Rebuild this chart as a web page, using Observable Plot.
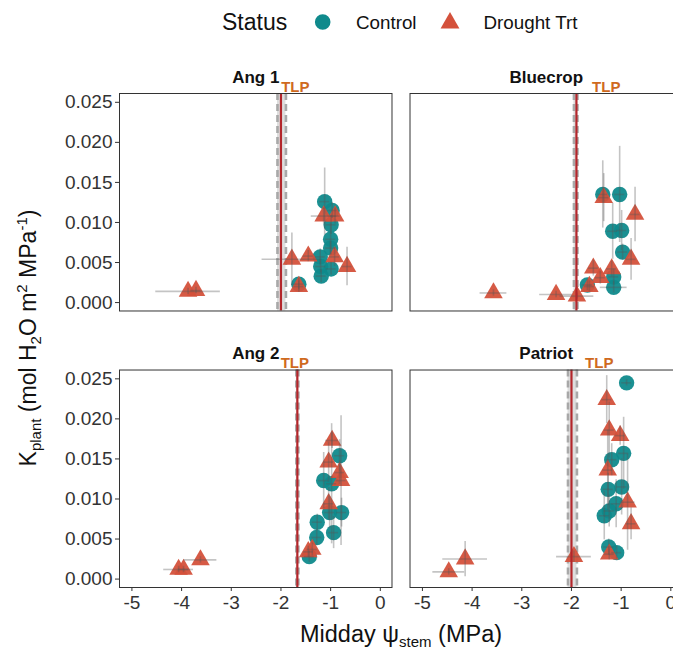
<!DOCTYPE html>
<html>
<head>
<meta charset="utf-8">
<script src="https://cdn.jsdelivr.net/npm/d3@7"></script>
<script src="https://cdn.jsdelivr.net/npm/@observablehq/plot@0.6"></script>
<style>
  body { margin: 0; background: #fff; font-family: "Liberation Sans", Arial, sans-serif; }
  #wrap { width: 673px; height: 655px; overflow: hidden; position: relative; background: #fff; }
  #legend { height: 45px; }
  #chart { width: 690px; }
  #chart svg { display: block; max-width: none !important; }
</style>
</head>
<body>
<div id="wrap">
  <div id="legend"></div>
  <div id="chart"></div>
</div>
<script>
// Panels (cultivars) and treatment groups
const cultivars = ["Ang 1", "Bluecrop", "Ang 2", "Patriot"];
const statuses = ["Control", "Drought Trt"];
const statusColors = ["#0f8a8c", "#d4513b"];

// Axis ticks
const xTicks = [-5, -4, -3, -2, -1, 0];
const yTicks = [0, 0.005, 0.010, 0.015, 0.020, 0.025];

// Turgor loss point per cultivar: mean and confidence band (MPa)
const tlpMean = [-2.00, -1.90, -1.67, -2.00];
const tlpLow = [-2.07, -1.95, -1.69, -2.07];
const tlpHigh = [-1.90, -1.88, -1.65, -1.89];
const tlpLabelAt = [-1.71, -1.30, -1.72, -1.44];

// Each point: [midday stem water potential, Kplant, SE of potential, SE of Kplant]
const ang1Control = [
  [-1.12, 0.0126, 0.10, 0.0042],
  [-0.97, 0.0115, 0.10, 0.0010],
  [-0.99, 0.0097, 0.10, 0.0012],
  [-1.00, 0.0079, 0.10, 0.0020],
  [-1.00, 0.0068, 0.10, 0.0008],
  [-1.21, 0.0057, 0.10, 0.0010],
  [-1.20, 0.0045, 0.10, 0.0008],
  [-0.99, 0.0042, 0.10, 0.0008],
  [-1.19, 0.0033, 0.10, 0.0008],
  [-1.64, 0.0023, 0.10, 0.0007]
];
const ang1Drought = [
  [-1.14, 0.0108, 0.25, 0.0010],
  [-0.91, 0.0108, 0.10, 0.0010],
  [-1.78, 0.0054, 0.60, 0.0033],
  [-1.45, 0.0058, 0.10, 0.0007],
  [-0.92, 0.0057, 0.10, 0.0012],
  [-0.67, 0.0045, 0.10, 0.0024],
  [-1.64, 0.0020, 0.10, 0.0007],
  [-3.87, 0.0014, 0.65, 0.0004],
  [-3.71, 0.0015, 0.10, 0.0004]
];
const bluecropControl = [
  [-1.37, 0.0135, 0.10, 0.0042],
  [-1.03, 0.0135, 0.10, 0.0060],
  [-1.17, 0.0089, 0.10, 0.0035],
  [-0.99, 0.0090, 0.10, 0.0025],
  [-0.97, 0.0063, 0.10, 0.0010],
  [-1.15, 0.0032, 0.10, 0.0010],
  [-1.15, 0.0019, 0.27, 0.0007],
  [-1.68, 0.0022, 0.10, 0.0007]
];
const bluecropDrought = [
  [-1.35, 0.0131, 0.10, 0.0030],
  [-0.72, 0.0110, 0.10, 0.0034],
  [-0.80, 0.0054, 0.10, 0.0026],
  [-1.19, 0.0042, 0.10, 0.0010],
  [-1.56, 0.0043, 0.10, 0.0010],
  [-1.42, 0.0031, 0.10, 0.0008],
  [-1.64, 0.0020, 0.10, 0.0007],
  [-2.31, 0.0010, 0.33, 0.0004],
  [-1.89, 0.0008, 0.34, 0.0004],
  [-3.57, 0.0012, 0.27, 0.0004]
];
const ang2Control = [
  [-0.82, 0.0154, 0.10, 0.0020],
  [-1.14, 0.0123, 0.10, 0.0035],
  [-0.98, 0.0119, 0.10, 0.0075],
  [-1.02, 0.0083, 0.10, 0.0020],
  [-0.78, 0.0083, 0.10, 0.0018],
  [-1.27, 0.0071, 0.10, 0.0010],
  [-1.28, 0.0052, 0.10, 0.0010],
  [-0.94, 0.0058, 0.10, 0.0020],
  [-1.43, 0.0028, 0.10, 0.0007]
];
const ang2Drought = [
  [-0.97, 0.0173, 0.13, 0.0010],
  [-1.04, 0.0146, 0.10, 0.0025],
  [-0.82, 0.0133, 0.10, 0.0015],
  [-0.79, 0.0123, 0.10, 0.0081],
  [-1.04, 0.0094, 0.10, 0.0020],
  [-1.37, 0.0037, 0.10, 0.0008],
  [-1.45, 0.0034, 0.10, 0.0007],
  [-4.06, 0.0012, 0.30, 0.0004],
  [-3.96, 0.0012, 0.10, 0.0004],
  [-3.62, 0.0024, 0.33, 0.0004]
];
const patriotControl = [
  [-0.89, 0.0245, 0.10, 0.0004],
  [-0.95, 0.0157, 0.10, 0.0045],
  [-1.19, 0.0149, 0.10, 0.0020],
  [-0.99, 0.0115, 0.10, 0.0035],
  [-1.26, 0.0112, 0.10, 0.0020],
  [-1.10, 0.0094, 0.10, 0.0030],
  [-1.24, 0.0085, 0.10, 0.0020],
  [-1.34, 0.0079, 0.10, 0.0030],
  [-1.25, 0.0040, 0.10, 0.0010],
  [-1.09, 0.0033, 0.10, 0.0008]
];
const patriotDrought = [
  [-1.29, 0.0224, 0.10, 0.0030],
  [-1.24, 0.0186, 0.10, 0.0035],
  [-1.02, 0.0179, 0.10, 0.0012],
  [-1.27, 0.0136, 0.10, 0.0050],
  [-0.87, 0.0096, 0.15, 0.0060],
  [-0.80, 0.0069, 0.10, 0.0020],
  [-1.24, 0.0031, 0.10, 0.0007],
  [-1.95, 0.0028, 0.35, 0.0007],
  [-4.47, 0.0009, 0.32, 0.0004],
  [-4.14, 0.0025, 0.45, 0.0022]
];

const groups = [
  [ang1Control, ang1Drought],
  [bluecropControl, bluecropDrought],
  [ang2Control, ang2Drought],
  [patriotControl, patriotDrought]
];

// Long-format table with a 2 x 2 facet layout
const rows = [];
cultivars.forEach((name, i) => {
  groups[i].forEach((set, s) => {
    set.forEach(([psi, k, psiSE, kSE]) => {
      rows.push({cultivar: name, status: statuses[s], psi, k, psiSE, kSE, col: i % 2, row: Math.floor(i / 2)});
    });
  });
});
const panels = cultivars.map((name, i) => ({
  name, col: i % 2, row: Math.floor(i / 2),
  mean: tlpMean[i], lo: tlpLow[i], hi: tlpHigh[i], labelAt: tlpLabelAt[i]
}));

const FONT = "Liberation Sans, Arial, sans-serif";
const facet = {fx: "col", fy: "row"};
const controlRows = rows.filter(d => d.status === statuses[0]);
const droughtRows = rows.filter(d => d.status === statuses[1]);

const chart = Plot.plot({
  width: 690,
  height: 610,
  marginLeft: 119,
  marginRight: 8,
  marginTop: 48,
  marginBottom: 68,
  style: {fontFamily: FONT, fontSize: "19px", color: "#333", background: "transparent", overflow: "visible", maxWidth: "none"},
  fx: {domain: [0, 1], axis: null, paddingInner: 0.062, paddingOuter: 0, round: false},
  fy: {domain: [0, 1], axis: null, paddingInner: 0.2135, paddingOuter: 0, round: false},
  x: {domain: [-5.25, 0.235], ticks: xTicks, tickSize: 4, tickPadding: 4, tickFormat: d => String(d), label: null},
  y: {domain: [-0.00105, 0.0261], ticks: yTicks, tickSize: 4, tickPadding: 3, tickFormat: d => d.toFixed(3), label: null},
  marks: [
    // TLP confidence band with dashed limits
    Plot.rect(panels, {...facet, x1: "lo", x2: "hi", fill: "#d6d6d6", fillOpacity: 0.8}),
    Plot.ruleX(panels, {...facet, x: "lo", stroke: "#a8a8a8", strokeWidth: 2.6, strokeDasharray: "7,4"}),
    Plot.ruleX(panels, {...facet, x: "hi", stroke: "#a8a8a8", strokeWidth: 2.6, strokeDasharray: "7,4"}),
    // points
    Plot.dot(controlRows, {...facet, x: "psi", y: "k", r: 7.7, symbol: "circle", fill: statusColors[0], fillOpacity: 0.95}),
    Plot.dot(droughtRows, {...facet, x: "psi", y: "k", r: 6.9, symbol: "triangle", fill: statusColors[1], fillOpacity: 0.95}),
    // standard errors
    Plot.ruleX(rows, {...facet, x: "psi", y1: d => d.k - d.kSE, y2: d => d.k + d.kSE, stroke: "#555", strokeOpacity: 0.35, strokeWidth: 1.6}),
    Plot.ruleY(rows, {...facet, y: "k", x1: d => d.psi - d.psiSE, x2: d => d.psi + d.psiSE, stroke: "#555", strokeOpacity: 0.35, strokeWidth: 1.6}),
    // mean TLP
    Plot.ruleX(panels, {...facet, x: "mean", stroke: "#b3262b", strokeWidth: 2.2}),
    Plot.frame({stroke: "#333", strokeWidth: 1}),
    // panel titles and TLP labels
    Plot.text(panels, {...facet, text: "name", frameAnchor: "top", lineAnchor: "bottom", dy: -11, fontSize: 17, fontWeight: "bold", fill: "#111"}),
    Plot.text(panels, {...facet, x: "labelAt", text: () => "TLP", frameAnchor: "top", lineAnchor: "bottom", dy: -2, fontSize: 15, fontWeight: "bold", fill: "#cf6a1e"})
  ]
});
chart.style.maxWidth = "none";
document.getElementById("chart").appendChild(chart);

// Axis titles with sub- and superscripts
const svg = d3.select(chart);
const yTitle = svg.append("text")
  .attr("transform", "translate(36,293) rotate(-90)")
  .attr("text-anchor", "middle")
  .attr("font-family", FONT)
  .attr("font-size", 23)
  .attr("fill", "#111");
const parts = [
  ["K", 0, 23], ["plant", 5, 15], [" (mol H", -5, 23], ["2", 5, 15], ["O m", -5, 23],
  ["2", -9, 15], [" MPa", 9, 23], ["-1", -9, 15], [")", 9, 23]
];
parts.forEach(([t, dy, fs]) => yTitle.append("tspan").attr("dy", dy).attr("font-size", fs).text(t));

const xTitle = svg.append("text")
  .attr("x", 401)
  .attr("y", 597)
  .attr("text-anchor", "middle")
  .attr("font-family", FONT)
  .attr("font-size", 23.5)
  .attr("fill", "#111");
[["Midday \u03c8", 0, 23.5], ["stem", 5, 15], [" (MPa)", -5, 23.5]]
  .forEach(([t, dy, fs]) => xTitle.append("tspan").attr("dy", dy).attr("font-size", fs).text(t));

// Legend above the panels
const leg = d3.select("#legend").append("svg").attr("width", 673).attr("height", 45);
leg.append("text").attr("x", 222).attr("y", 30).attr("font-family", FONT).attr("font-size", 23).attr("fill", "#111").text("Status");
const legX = [[322.7, 356], [450, 483.5]];
statuses.forEach((s, i) => {
  const sym = i === 0 ? d3.symbolCircle : d3.symbolTriangle;
  const size = i === 0 ? Math.PI * 7.8 * 7.8 : Math.PI * 7 * 7;
  leg.append("path")
    .attr("d", d3.symbol(sym, size)())
    .attr("transform", `translate(${legX[i][0]},${i === 0 ? 22 : 23})`)
    .attr("fill", statusColors[i]);
  leg.append("text").attr("x", legX[i][1]).attr("y", 29).attr("font-family", FONT).attr("font-size", 18.8).attr("fill", "#111").text(s);
});
</script>
</body>
</html>
